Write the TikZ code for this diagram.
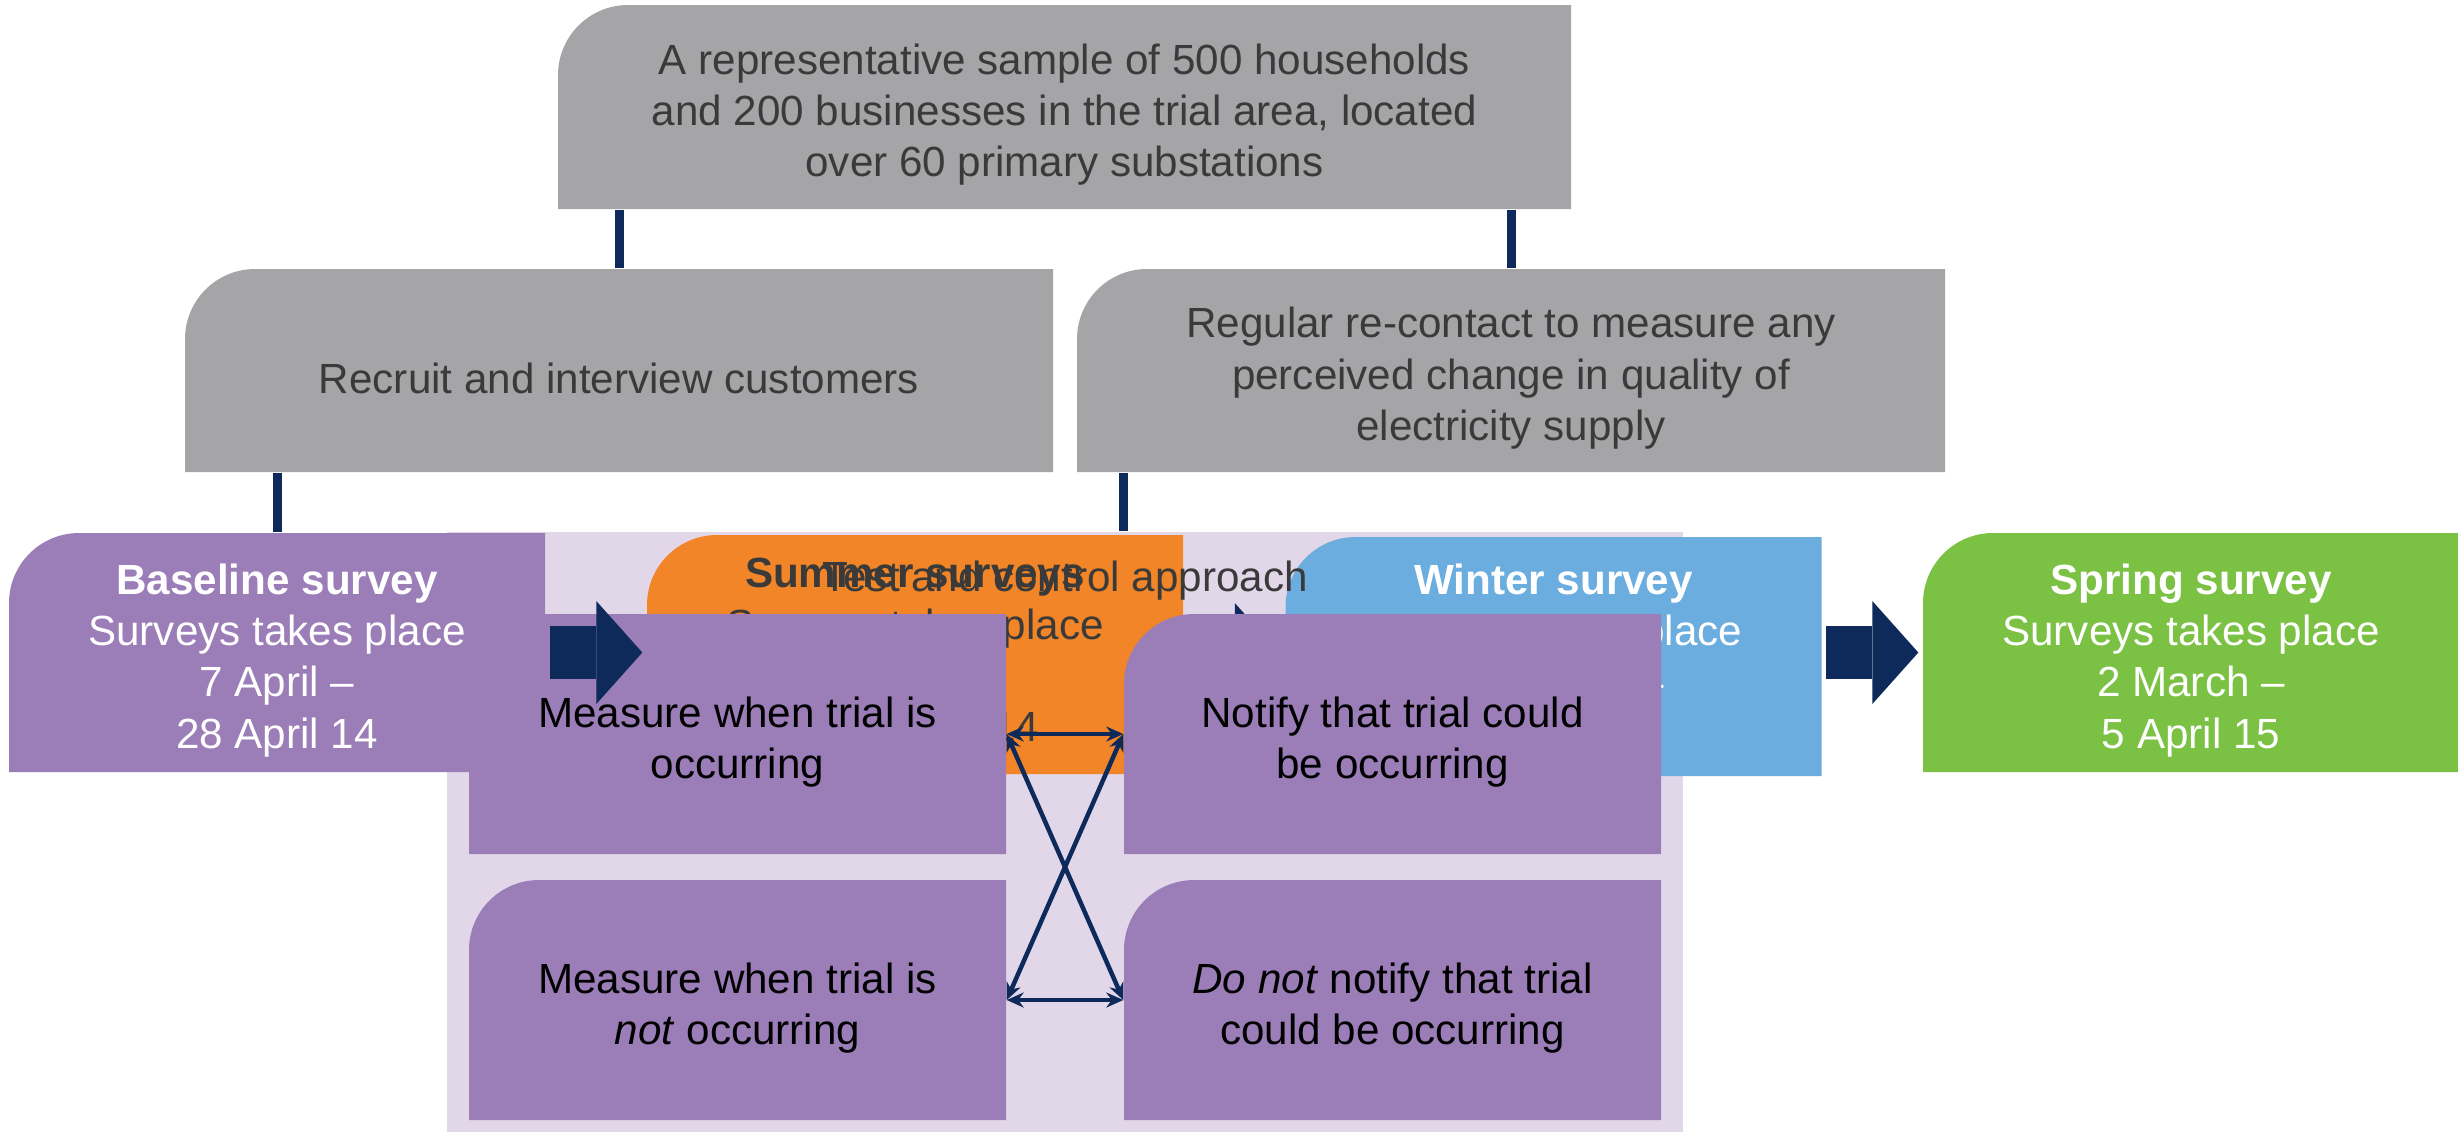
\documentclass[tikz,border=0pt]{standalone}
\usepackage{fontspec}
\setmainfont{Liberation Sans}
\usetikzlibrary{arrows.meta}

\definecolor{boxgray}{HTML}{A5A5A7}
\definecolor{linkblue}{HTML}{0E2A5A}
\definecolor{lilac}{HTML}{9B7DB8}
\definecolor{lavender}{HTML}{E2D7E9}
\definecolor{amber}{HTML}{F28527}
\definecolor{sky}{HTML}{6AADDE}
\definecolor{leaf}{HTML}{7BC143}
\definecolor{ink}{HTML}{3A3A3A}

\tikzset{
  every node/.style={font=\fontsize{12}{14.6}\selectfont, align=center, inner sep=0pt},
  card/.style={minimum width=53.6mm, minimum height=23.9mm,
    path picture={\fill[#1] (path picture bounding box.south west) [rounded corners=7mm]
      -- (path picture bounding box.north west) [sharp corners]
      -- (path picture bounding box.north east)
      -- (path picture bounding box.south east) -- cycle;}},
  greycard/.style={card=boxgray, minimum width=86.8mm, minimum height=20.3mm, text=ink},
  quad/.style={card=lilac, minimum width=53.7mm, minimum height=24mm, text=black},
  link/.style={linkblue, line width=0.9mm},
  bigarrow/.style={linkblue, line width=5.3mm, shorten <=0.4mm, shorten >=0.4mm,
    -{Triangle[length=4.6mm,width=10.3mm,line width=0pt]}},
  twoway/.style={linkblue, line width=0.45mm,
    {Stealth[length=1.7mm,width=1.5mm]}-{Stealth[length=1.7mm,width=1.5mm]}}
}
% first line of a box set a little lower
\newcommand{\lift}{\rule{0pt}{4.6mm}}

\begin{document}
\begin{tikzpicture}[x=0.1mm,y=-0.1mm]
  \fill[white] (0,0) rectangle (2458,1132);
  \useasboundingbox (0,0) rectangle (2458,1132);
 %sample and the two strands
  \node[greycard, minimum width=101.3mm, minimum height=20.4mm] (sample) at (1064.5,107)
    {\lift A representative sample of 500 households\\and 200 businesses in the trial area, located\\over 60 primary substations};
  \node[greycard] (recruit) at (619,370.5) {\lift Recruit and interview customers};
  \node[greycard] (recontact) at (1511,370.5)
    {\lift Regular re-contact to measure any\\perceived change in quality of\\electricity supply};
  \draw[link] (sample.south -| recruit.north) -- (recruit.north);
  \draw[link] (sample.south -| recontact.north) -- (recontact.north);
 %panel behind the test and control boxes
  \node[fill=lavender, minimum width=123.6mm, minimum height=60mm] (panel) at (1065,832) {};
 %survey waves
  \node[card=lilac, text=white] (baseline) at (277,652.5)
    {\lift\textbf{Baseline survey}\\Surveys takes place\\7 April --\\28 April 14};
  \node[card=amber, text=ink] (summer) at (915,654.5)
    {\textbf{Summer surveys}\\Surveys takes place\\28 July --\\25 August 14};
  \node[card=sky, text=white] (winter) at (1553.5,656.5)
    {\textbf{Winter survey}\\Surveys takes place\\6 January --\\1 March 15};
  \node[card=leaf, text=white] (spring) at (2191,652.5)
    {\lift\textbf{Spring survey}\\Surveys takes place\\2 March --\\5 April 15};
  \draw[link] (recruit.south -| baseline.north) -- (baseline.north);
  \draw[bigarrow] (summer.east) -- (summer.east -| winter.west);
  \draw[bigarrow] (spring.west -| winter.east) -- (spring.west);
  \node[text=ink] (approach) at (1065,573) {\lift Test and control approach};
 %test and control
  \node[quad] (measure) at (737.5,734) {\lift Measure when trial is\\occurring};
  \node[quad] (notify) at (1392.5,734) {\lift Notify that trial could\\be occurring};
  \node[quad] (measurenot) at (737.5,1000) {\lift Measure when trial is\\\emph{not} occurring};
  \node[quad] (donot) at (1392.5,1000) {\lift\emph{Do not} notify that trial\\could be occurring};
  \draw[link] (recontact.south -| notify.north west) -- (panel.north -| notify.north west);
  \draw[bigarrow] (baseline.east) -- (baseline.east -| summer.west);
  \draw[twoway] (measure.east) -- (notify.west);
  \draw[twoway] (measurenot.east) -- (donot.west);
  \draw[twoway] (measure.east) -- (donot.west);
  \draw[twoway] (notify.west) -- (measurenot.east);
\end{tikzpicture}
\end{document}
